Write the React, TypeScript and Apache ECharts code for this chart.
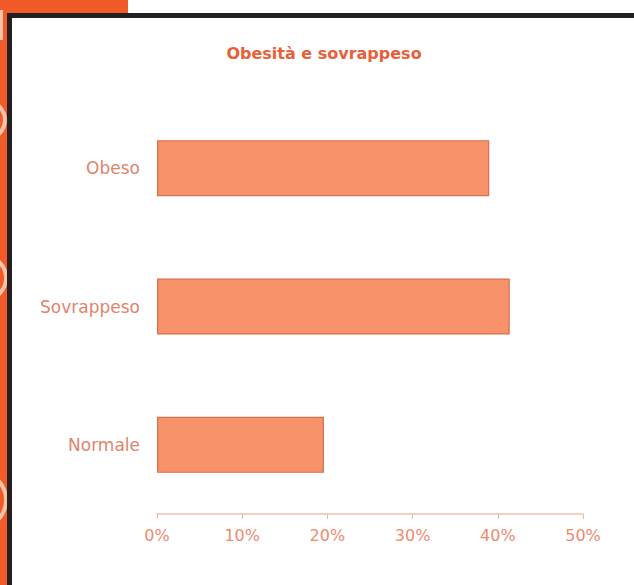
import React, { useEffect, useRef } from "react";
import * as echarts from "echarts";

const categories = ["Obeso", "Sovrappeso", "Normale"];
const values = [39, 41.4, 19.6];
const xTicks = [0, 10, 20, 30, 40, 50];

export default function App() {
  const ref = useRef<HTMLDivElement>(null);
  useEffect(() => {
    const chart = echarts.init(ref.current!, null, { renderer: "svg" });
    const orange = "#F15A29";
    const peach = "#FCC4A6";
    const dark = "#231F20";
    chart.setOption({
      animation: false,
      backgroundColor: "#ffffff",
      title: {
        text: "Obesità e sovrappeso",
        left: 319,
        textAlign: "center",
        top: 40,
        textStyle: { color: "#E8603A", fontSize: 16, fontWeight: "bold", fontFamily: "DejaVu Sans" },
      },
      graphic: [
        { type: "rect", shape: { x: 0, y: 0, width: 128, height: 14 }, style: { fill: orange }, z: 1 },
        { type: "rect", shape: { x: 0, y: 0, width: 8, height: 585 }, style: { fill: orange }, z: 1 },
        { type: "rect", shape: { x: 0, y: 10, width: 3, height: 30 }, style: { fill: peach }, z: 2 },
        { type: "arc", shape: { cx: -14, cy: 120, r: 19, startAngle: -Math.PI / 2, endAngle: Math.PI / 2 }, style: { stroke: peach, lineWidth: 4, fill: "none" }, z: 2 },
        { type: "arc", shape: { cx: -16, cy: 278, r: 22, startAngle: -Math.PI / 2, endAngle: Math.PI / 2 }, style: { stroke: peach, lineWidth: 4, fill: "none" }, z: 2 },
        { type: "arc", shape: { cx: -22, cy: 500, r: 28, startAngle: -Math.PI / 2, endAngle: Math.PI / 2 }, style: { stroke: peach, lineWidth: 4, fill: "none" }, z: 2 },
        { type: "rect", shape: { x: 7, y: 13, width: 627, height: 5 }, style: { fill: dark }, z: 3 },
        { type: "rect", shape: { x: 7, y: 13, width: 5, height: 572 }, style: { fill: dark }, z: 3 },
      ],
      grid: { left: 157, right: 51, top: 99, bottom: 71 },
      xAxis: {
        type: "value",
        min: 0,
        max: 50,
        interval: 10,
        splitLine: { show: false },
        axisLine: { show: true, lineStyle: { color: "#EFC2AE", width: 1.5 } },
        axisTick: { show: true, length: 5, lineStyle: { color: "#E9B8A2" } },
        axisLabel: {
          formatter: (v: number) => (xTicks.includes(v) ? v + "%" : ""),
          color: "#EE8A70",
          fontSize: 16,
          fontFamily: "DejaVu Sans",
          margin: 13,
        },
      },
      yAxis: {
        type: "category",
        data: categories,
        inverse: true,
        axisLine: { show: false },
        axisTick: { show: false },
        axisLabel: { color: "#E0846C", fontSize: 17, fontFamily: "DejaVu Sans", margin: 17 },
      },
      series: [
        {
          type: "bar",
          data: values,
          barWidth: 56,
          itemStyle: { color: "#F7926A", borderColor: "#D6714E", borderWidth: 1.2 },
        },
      ],
    });
    return () => chart.dispose();
  }, []);
  return (
    <div
      ref={ref}
      style={{ position: "absolute", left: 0, top: 0, width: 634, height: 585 }}
    />
  );
}
